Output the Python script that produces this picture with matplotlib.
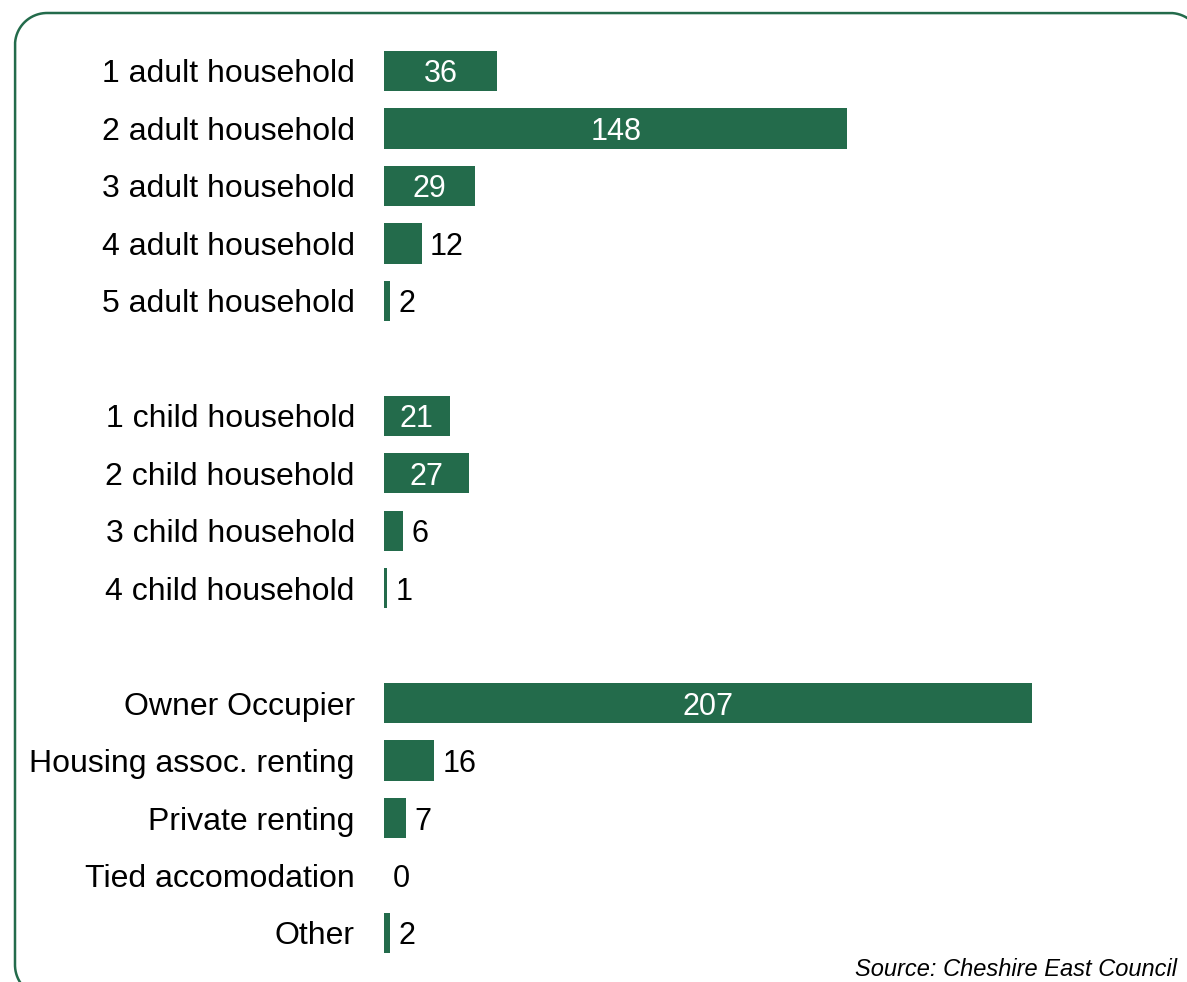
import numpy as np
import matplotlib.pyplot as plt

plt.rcParams['font.family'] = ['Liberation Sans', 'DejaVu Sans']

# data (None marks the blank slot between groups)
labels = ["1 adult household", "2 adult household", "3 adult household",
          "4 adult household", "5 adult household", None,
          "1 child household", "2 child household", "3 child household",
          "4 child household", None,
          "Owner Occupier", "Housing assoc. renting", "Private renting",
          "Tied accomodation", "Other"]
values = [36, 148, 29, 12, 2, None,
          21, 27, 6, 1, None,
          207, 16, 7, 0, 2]
source = "Source: Cheshire East Council"

green = "#236B4B"
W, H = 1187, 982
fig = plt.figure(figsize=(W / 100, H / 100), dpi=100)

# background axes in pixel units (origin top-left) for the rounded border
bg = fig.add_axes([0, 0, 1, 1])
bg.set_xlim(0, W)
bg.set_ylim(H, 0)
bg.axis('off')

def rounded_rect(x0, y0, x1, y1, r, n=40):
    # corners traced clockwise on screen, y grows downward
    pts = []
    for cx, cy, a0 in [(x0 + r, y0 + r, 180), (x1 - r, y0 + r, 270),
                       (x1 - r, y1 - r, 0), (x0 + r, y1 - r, 90)]:
        t = np.radians(np.linspace(a0, a0 + 90, n))
        pts.append(np.column_stack([cx + r * np.cos(t), cy + r * np.sin(t)]))
    pts = np.vstack(pts)
    # start mid-way along the left edge so the closing join is on a straight run
    mid = np.array([[x0, (y0 + y1) / 2]])
    pts = np.vstack([mid, pts, mid])
    return pts[:, 0], pts[:, 1]

bx, by = rounded_rect(15, 13, 1202, 997, 32)
bg.plot(bx, by, color=green, linewidth=1.8, clip_on=False,
        solid_joinstyle='round', solid_capstyle='butt')

# chart axes placement in pixels
px_per_unit = (1032 - 384) / 207
slot = (933 - 71) / 15
top = 71 - slot / 2
bottom = 933 + slot / 2
ax = fig.add_axes([384 / W, (H - bottom) / H, (W - 384) / W, (bottom - top) / H])
ax.patch.set_visible(False)
ax.set_xlim(0, (W - 384) / px_per_unit)
ax.set_ylim(len(labels) - 0.5, -0.5)

pos = [i for i, v in enumerate(values) if v is not None]
vals = [values[i] for i in pos]
ax.barh(pos, vals, height=0.7, color=green)

for y, v in zip(pos, vals):
    if v >= 20:
        ax.text(v / 2, y, str(v), ha='center', va='center_baseline', color='white', fontsize=22)
    else:
        ax.annotate(str(v), (v, y), xytext=(6, 0), textcoords='offset points',
                    ha='left', va='center_baseline', color='black', fontsize=22)

ax.set_yticks(pos)
ax.set_yticklabels([labels[i] for i in pos], fontsize=23)
ax.tick_params(axis='y', length=0, pad=21)
ax.set_xticks([])
for s in ax.spines.values():
    s.set_visible(False)

fig.text(1177 / W, (H - 976) / H, source, ha='right', va='baseline',
         fontsize=17, style='italic')

fig.savefig("out.png", dpi=100)
